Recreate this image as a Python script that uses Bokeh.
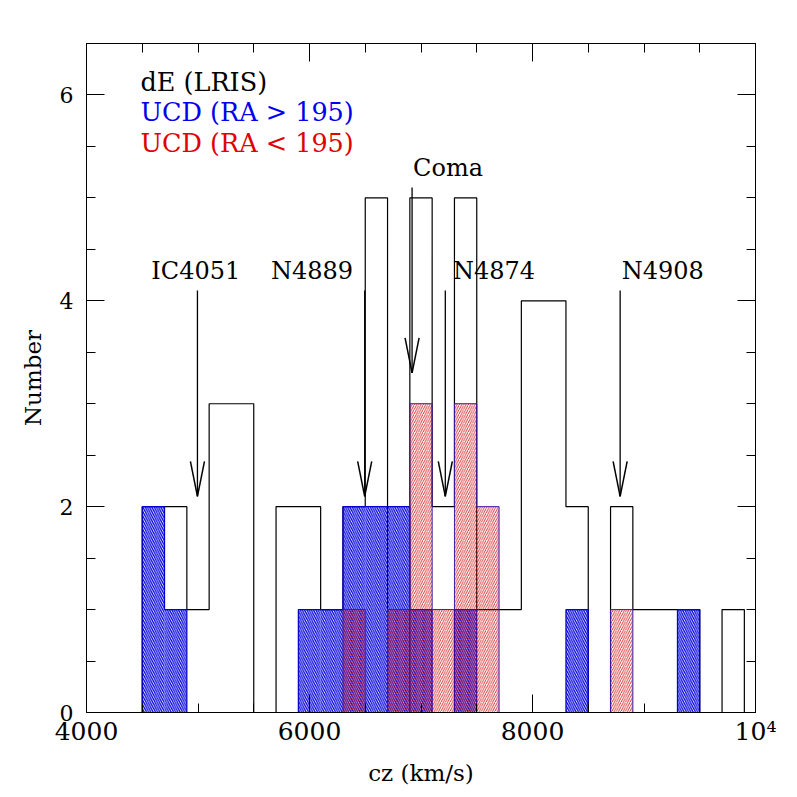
import numpy as np
from bokeh.plotting import figure
from bokeh.models import LinearAxis, FixedTicker, Range1d, ColumnDataSource, CustomJSTickFormatter
from bokeh.core.properties import value
from bokeh.embed import file_html
from bokeh.resources import INLINE

# ---------------- data ----------------
bin_start = 4500
bin_width = 200
n_bins = 27
# dE (LRIS) counts per 200 km/s bin starting at 4500
de_counts = [2, 2, 1, 3, 3, 0, 2, 2, 1, 2, 5, 0, 5, 2, 5, 1, 1, 4, 4, 2, 0, 2, 1, 1, 1, 0, 1]
# UCD (RA > 195)
ucd_hi_counts = [2, 1, 0, 0, 0, 0, 0, 1, 1, 2, 2, 2, 1, 0, 1, 0, 0, 0, 0, 1, 0, 0, 0, 0, 1, 0, 0]
# UCD (RA < 195)
ucd_lo_counts = [0, 0, 0, 0, 0, 0, 0, 0, 0, 1, 0, 1, 3, 1, 3, 2, 0, 0, 0, 0, 0, 1, 0, 0, 0, 0, 0]

galaxy_names = ["IC4051", "N4889", "Coma", "N4874", "N4908"]
galaxy_cz = [4995, 6495, 6920, 7218, 8786]
arrow_tail = [4.1, 4.1, 5.1, 4.1, 4.1]
arrow_tip = [2.1, 2.1, 3.3, 2.1, 2.1]

legend_labels = ["dE (LRIS)", "UCD (RA > 195)", "UCD (RA < 195)"]

x_ticks = [4000, 6000, 8000, 10000]
x_tick_labels = ["4000", "6000", "8000", "10\u2074"]
x_minor = [4500, 5000, 5500, 6500, 7000, 7500, 8500, 9000, 9500]
y_ticks = [0, 2, 4, 6]
y_tick_labels = ["0", "2", "4", "6"]
y_minor = [0.5, 1, 1.5, 2.5, 3, 3.5, 4.5, 5, 5.5, 6.5]

# ---------------- helpers ----------------
edges = np.array([bin_start + i * bin_width for i in range(n_bins + 1)], dtype=float)


def step_outline(counts):
    xs = [edges[0]]
    ys = [0.0]
    for i, c in enumerate(counts):
        xs += [edges[i], edges[i + 1]]
        ys += [c, c]
    xs.append(edges[-1])
    ys.append(0.0)
    return xs, ys


def bars(counts):
    c = np.array(counts, dtype=float)
    m = c > 0
    return dict(left=edges[:-1][m], right=edges[1:][m], top=c[m])


FONT = "DejaVu Serif"
BLUE = "#0000ee"
RED = "#e00000"

p = figure(frame_width=669, frame_height=669,
           x_range=Range1d(4000, 10000), y_range=Range1d(0, 6.5),
           output_backend="svg", toolbar_location=None,
           min_border_left=86, min_border_right=26,
           min_border_top=43, min_border_bottom=72,
           x_axis_label="cz (km/s)", y_axis_label="Number")
p.xgrid.visible = False
p.ygrid.visible = False
p.outline_line_color = "black"
p.outline_line_width = 1
p.background_fill_color = "white"
p.border_fill_color = "white"

# black dE outline (drawn first)
xs, ys = step_outline(de_counts)
p.line(xs, ys, line_color="black", line_width=1.2)

# blue UCD hatched bars
p.quad(bottom=0, source=ColumnDataSource(bars(ucd_hi_counts)),
       left="left", right="right", top="top",
       fill_color=None, line_color=None,
       hatch_pattern="\\", hatch_color="#0000dd", hatch_scale=4.5, hatch_weight=1.3)
xs, ys = step_outline(ucd_hi_counts)
p.line(xs, ys, line_color="#0000cc", line_width=1.2)

# red UCD hatched bars
p.quad(bottom=0, source=ColumnDataSource(bars(ucd_lo_counts)),
       left="left", right="right", top="top",
       fill_color=None, line_color=None,
       hatch_pattern="/", hatch_color="#cc0000", hatch_scale=4.5, hatch_weight=0.8)
xs, ys = step_outline(ucd_lo_counts)
p.line(xs, ys, line_color="#3a1aa8", line_width=1.0)

# arrows
head_dx = 63
head_dy = 0.34
p.segment(x0=galaxy_cz, y0=arrow_tail, x1=galaxy_cz, y1=arrow_tip,
          line_color="black", line_width=1.3)
p.segment(x0=[c - head_dx for c in galaxy_cz], y0=[t + head_dy for t in arrow_tip],
          x1=galaxy_cz, y1=arrow_tip, line_color="black", line_width=1.5)
p.segment(x0=[c + head_dx for c in galaxy_cz], y0=[t + head_dy for t in arrow_tip],
          x1=galaxy_cz, y1=arrow_tip, line_color="black", line_width=1.5)

label_dx = [-15, -104, 9, 69, 15]
label_align = ["center", "right", "left", "left", "left"]
p.text(x=[c + d for c, d in zip(galaxy_cz, label_dx)],
       y=[t + 0.19 for t in arrow_tail],
       text=galaxy_names, text_align=label_align,
       text_baseline="alphabetic", text_font=value(FONT),
       text_font_size="24px", text_color="black")

# legend texts
p.text(x=[4484] * 3, y=[6.13, 5.83, 5.53], text=legend_labels,
       text_color=["black", BLUE, RED], text_align="left",
       text_baseline="alphabetic", text_font=value(FONT),
       text_font_size="25.5px")

# axes
xt = FixedTicker(ticks=x_ticks, minor_ticks=x_minor)
yt = FixedTicker(ticks=y_ticks, minor_ticks=y_minor)
blank = CustomJSTickFormatter(code="return ''")
p.add_layout(LinearAxis(ticker=xt, formatter=blank), "above")
p.add_layout(LinearAxis(ticker=yt, formatter=blank), "right")

bx = p.below[0]
ly = p.left[0]
bx.ticker = xt
ly.ticker = yt
bx.major_label_overrides = {t: l for t, l in zip(x_ticks, x_tick_labels)}
ly.major_label_overrides = {t: l for t, l in zip(y_ticks, y_tick_labels)}

for ax in [bx, ly, p.above[0], p.right[0]]:
    ax.major_tick_in = 18
    ax.major_tick_out = 0
    ax.minor_tick_in = 9
    ax.minor_tick_out = 0
    ax.major_tick_line_color = "black"
    ax.minor_tick_line_color = "black"
    ax.axis_line_color = "black"
    ax.major_tick_line_width = 1
    ax.minor_tick_line_width = 1
    ax.major_label_text_color = "black"
    ax.axis_label_text_color = "black"

for ax in [p.above[0], p.right[0]]:
    ax.major_label_standoff = 0

bx.major_label_text_font = FONT
bx.major_label_text_font_size = "25px"
bx.major_label_standoff = 4
bx.axis_label_text_font = FONT
bx.axis_label_text_font_size = "23px"
bx.axis_label_text_font_style = "normal"
bx.axis_label_standoff = 11

ly.major_label_text_font = FONT
ly.major_label_text_font_size = "22px"
ly.major_label_standoff = 13
ly.axis_label_text_font = FONT
ly.axis_label_text_font_size = "23px"
ly.axis_label_text_font_style = "normal"
ly.axis_label_standoff = 11

open("out.html", "w").write(file_html(p, INLINE))
